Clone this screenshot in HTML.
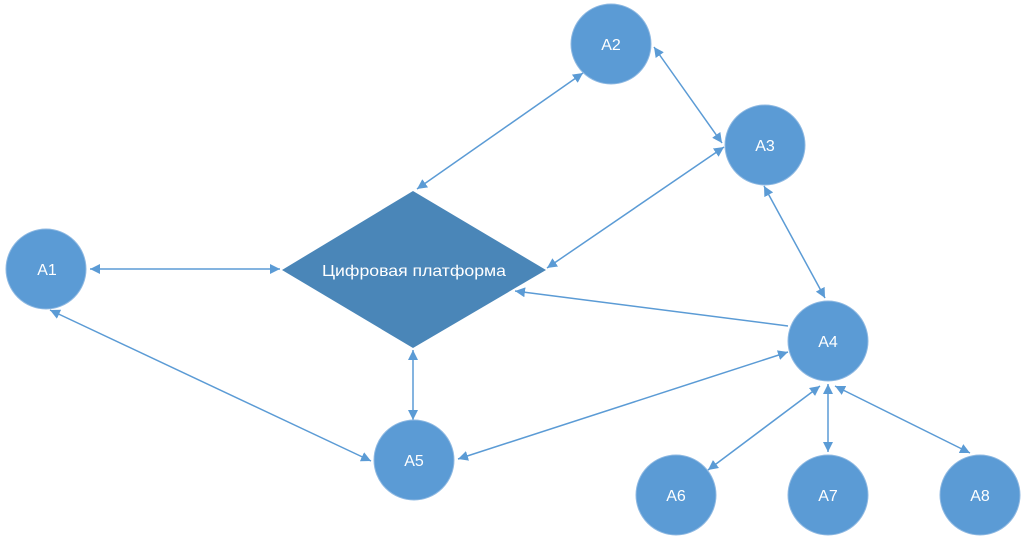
<!DOCTYPE html>
<html><head><meta charset="utf-8"><style>
html,body{margin:0;padding:0;background:#fff;}
svg{display:block;}
text{font-family:"Liberation Sans","DejaVu Sans",sans-serif;fill:#fff;}
</style></head><body>
<svg width="1030" height="547" viewBox="0 0 1030 547" xmlns="http://www.w3.org/2000/svg">
<defs>
<marker id="a" viewBox="0 0 10 10" refX="10" refY="5" markerWidth="10" markerHeight="10" markerUnits="userSpaceOnUse" orient="auto-start-reverse">
<path d="M0,0 L10,5 L0,10 z" fill="#5b9bd5"/>
</marker>
</defs>
<g stroke="#5b9bd5" stroke-width="1.5" fill="none">
<line x1="90" y1="269" x2="280" y2="269" marker-start="url(#a)" marker-end="url(#a)"/>
<line x1="583" y1="73" x2="417" y2="189" marker-start="url(#a)" marker-end="url(#a)"/>
<line x1="724" y1="147" x2="547" y2="268" marker-start="url(#a)" marker-end="url(#a)"/>
<line x1="788" y1="326" x2="515" y2="291" marker-end="url(#a)"/>
<line x1="413" y1="350" x2="413" y2="420" marker-start="url(#a)" marker-end="url(#a)"/>
<line x1="50" y1="310" x2="371" y2="461" marker-start="url(#a)" marker-end="url(#a)"/>
<line x1="788" y1="352" x2="458" y2="459" marker-start="url(#a)" marker-end="url(#a)"/>
<line x1="654" y1="47" x2="722" y2="143" marker-start="url(#a)" marker-end="url(#a)"/>
<line x1="764" y1="186" x2="825" y2="298" marker-start="url(#a)" marker-end="url(#a)"/>
<line x1="820" y1="386" x2="708" y2="470" marker-start="url(#a)" marker-end="url(#a)"/>
<line x1="828" y1="384" x2="828" y2="452" marker-start="url(#a)" marker-end="url(#a)"/>
<line x1="835" y1="386" x2="970" y2="453" marker-start="url(#a)" marker-end="url(#a)"/>
</g>
<polygon points="413,191 546,270 413,348 282,270" fill="#4a86b8"/>
<text x="322" y="276" font-size="16" textLength="184" lengthAdjust="spacingAndGlyphs">Цифровая платформа</text>
<g fill="#5b9bd5" stroke="#8fb9e2" stroke-width="1">
<circle cx="611" cy="44" r="40"/>
<circle cx="765" cy="145" r="40"/>
<circle cx="46" cy="269" r="40"/>
<circle cx="828" cy="341" r="40"/>
<circle cx="414" cy="460" r="40"/>
<circle cx="676" cy="495" r="40"/>
<circle cx="828" cy="495" r="40"/>
<circle cx="980" cy="495" r="40"/>
</g>
<g font-size="16" text-anchor="middle">
<text x="611" y="50">A2</text>
<text x="765" y="151">A3</text>
<text x="47" y="275">A1</text>
<text x="828" y="347">A4</text>
<text x="414" y="466">A5</text>
<text x="676" y="501">A6</text>
<text x="828" y="501">A7</text>
<text x="980" y="501">A8</text>
</g>
</svg>
</body></html>
